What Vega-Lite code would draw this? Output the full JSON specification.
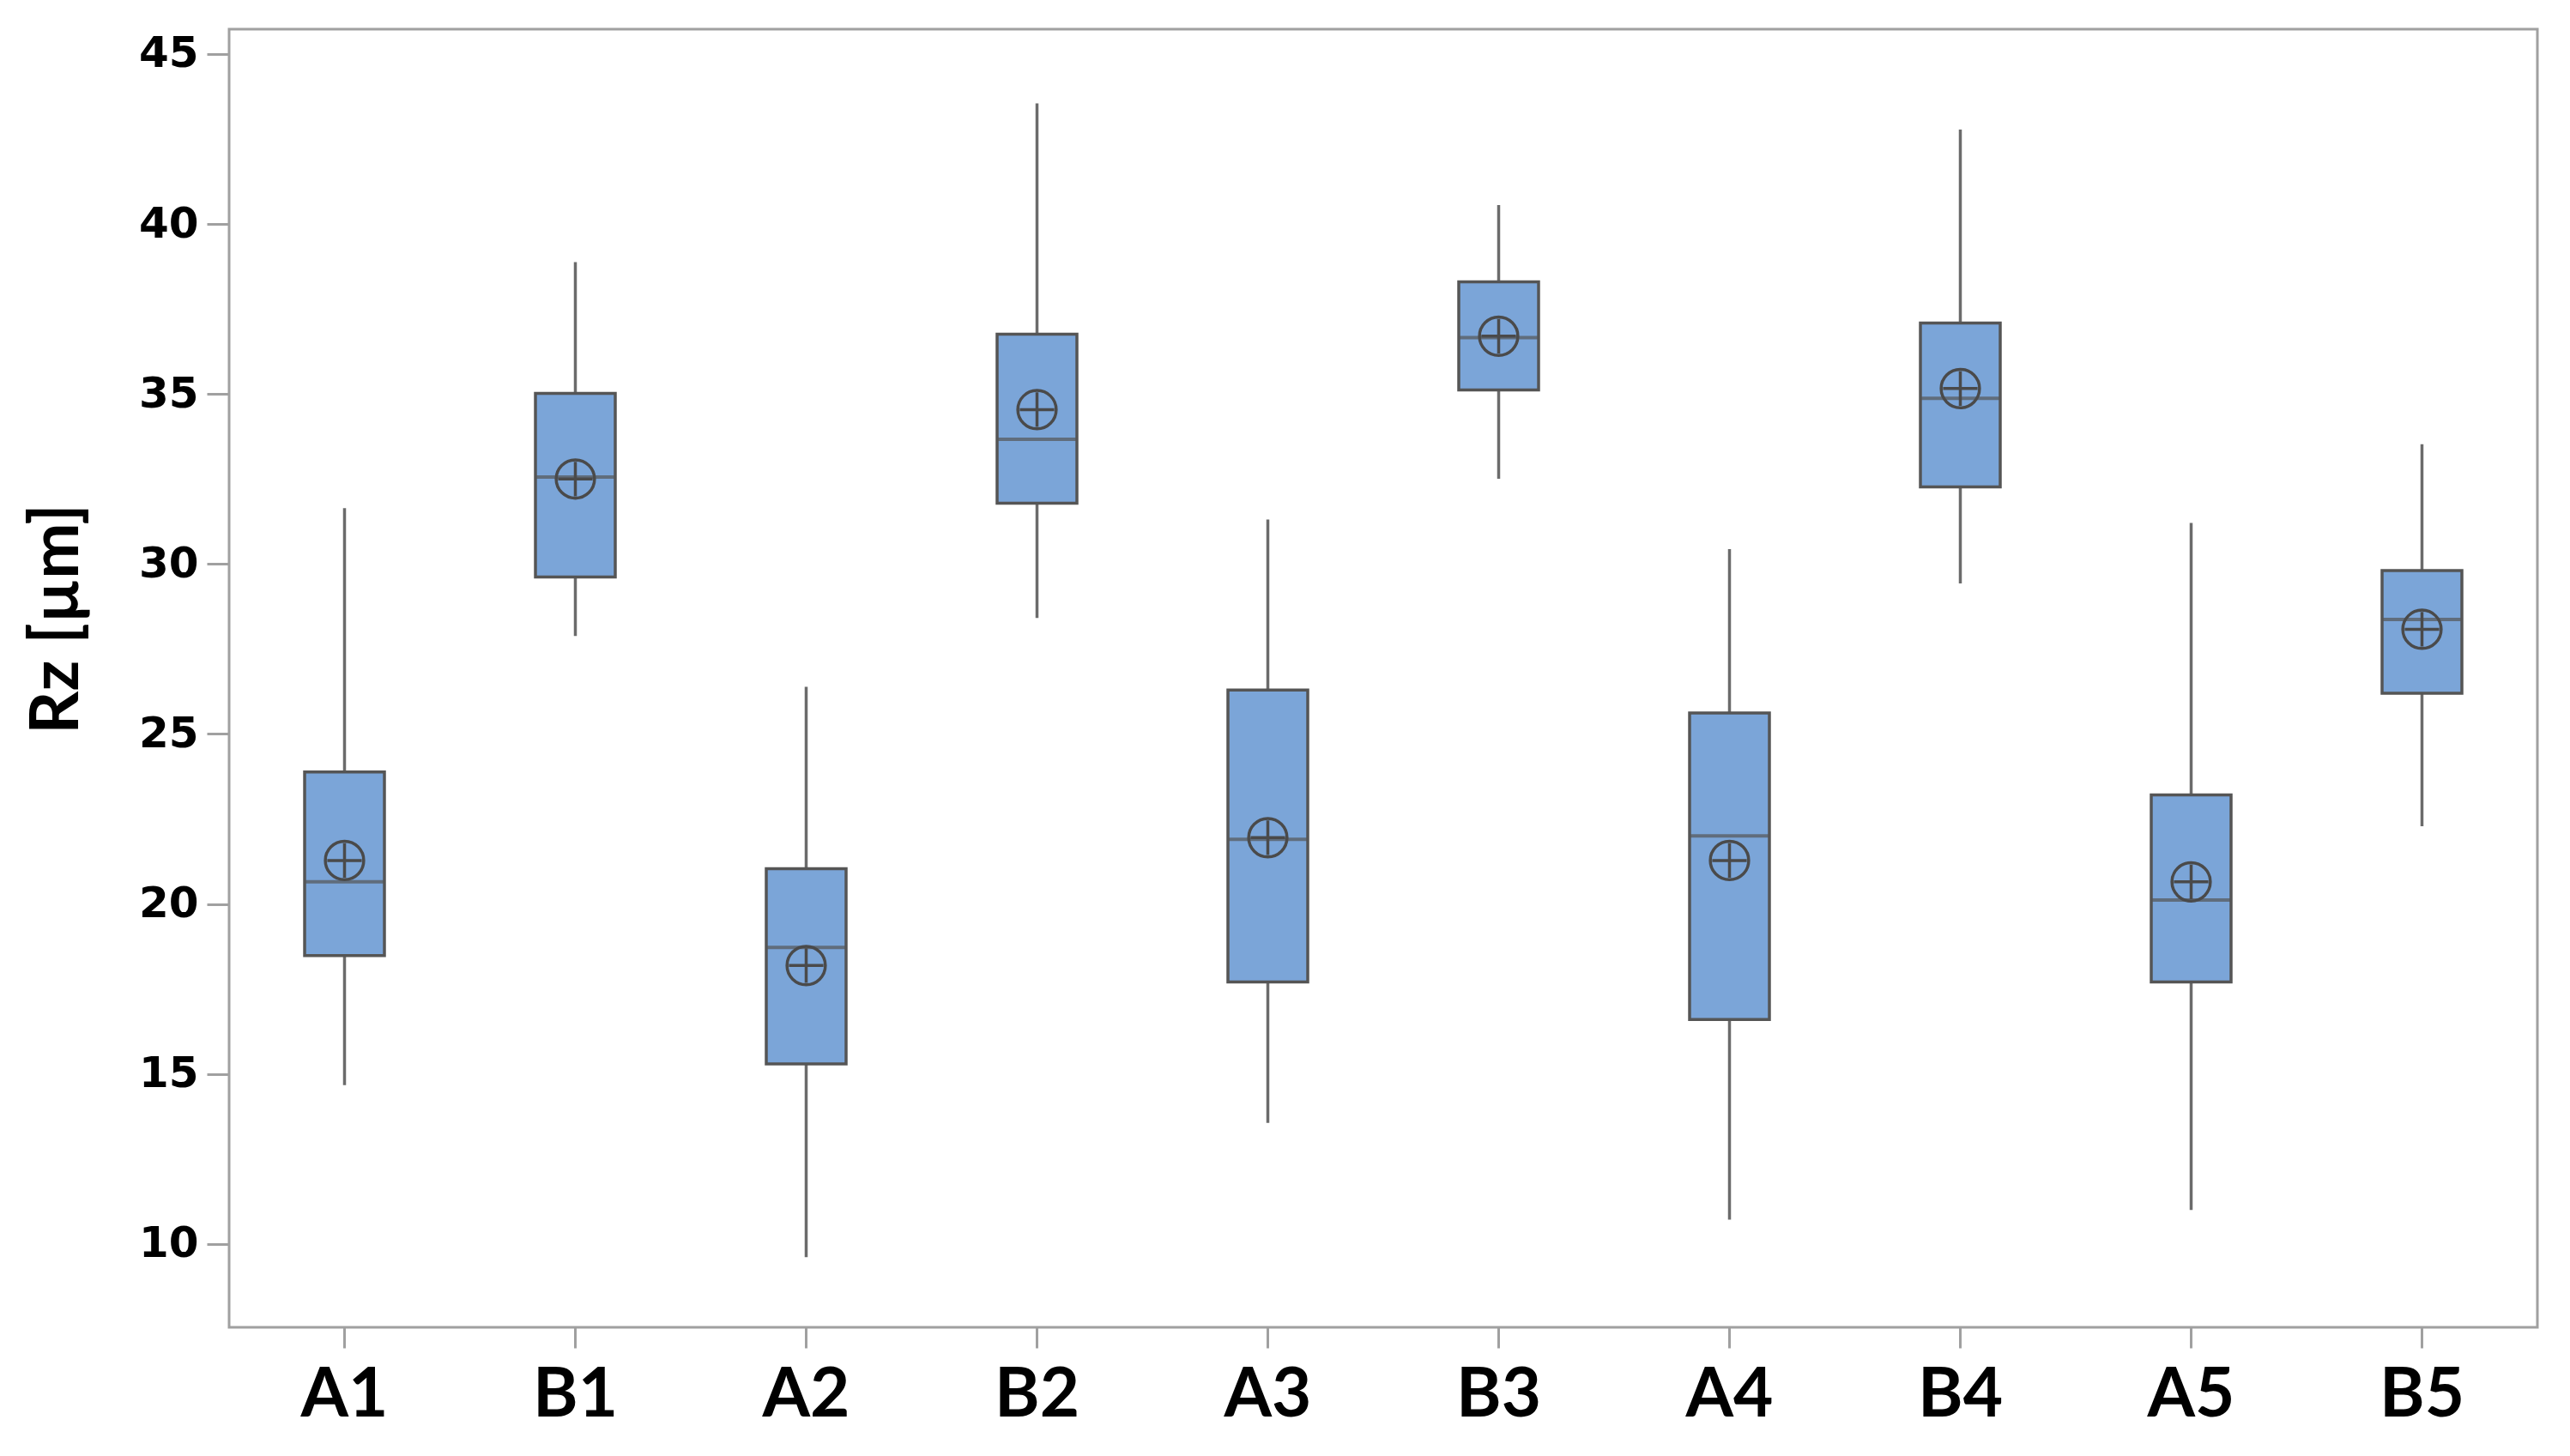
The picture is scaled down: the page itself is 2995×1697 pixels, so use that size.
{
  "$schema": "https://vega.github.io/schema/vega-lite/v6.json",
  "autosize": "none",
  "width": 2690,
  "height": 1513,
  "padding": {"left": 267, "top": 34, "right": 38, "bottom": 150},
  "background": "white",
  "config": {
    "view": {"stroke": "#a0a0a0", "strokeWidth": 3}
  },
  "data": {
    "values": [
      {"group": "A1", "low": 14.67, "q1": 18.48, "median": 20.65, "q3": 23.88, "high": 31.64, "mean": 21.28},
      {"group": "B1", "low": 27.88, "q1": 29.62, "median": 32.56, "q3": 35.02, "high": 38.88, "mean": 32.5},
      {"group": "A2", "low": 9.61, "q1": 15.3, "median": 18.72, "q3": 21.04, "high": 26.39, "mean": 18.19},
      {"group": "B2", "low": 28.41, "q1": 31.79, "median": 33.67, "q3": 36.76, "high": 43.55, "mean": 34.54},
      {"group": "A3", "low": 13.56, "q1": 17.71, "median": 21.9, "q3": 26.29, "high": 31.31, "mean": 21.95},
      {"group": "B3", "low": 32.51, "q1": 35.12, "median": 36.66, "q3": 38.3, "high": 40.56, "mean": 36.7},
      {"group": "A4", "low": 10.72, "q1": 16.6, "median": 22.0, "q3": 25.62, "high": 30.44, "mean": 21.28},
      {"group": "B4", "low": 29.43, "q1": 32.27, "median": 34.87, "q3": 37.09, "high": 42.78, "mean": 35.16},
      {"group": "A5", "low": 11.0, "q1": 17.71, "median": 20.12, "q3": 23.21, "high": 31.21, "mean": 20.65},
      {"group": "B5", "low": 22.29, "q1": 26.2, "median": 28.37, "q3": 29.81, "high": 33.52, "mean": 28.08}
    ]
  },
  "encoding": {
    "x": {
      "field": "group",
      "type": "nominal",
      "sort": null,
      "scale": {"paddingInner": 0, "paddingOuter": 0},
      "axis": {
        "title": null,
        "domain": false,
        "labelAngle": 0,
        "labelFont": "Lato",
        "labelFontWeight": "bold",
        "labelFontSize": 80,
        "labelColor": "#000000",
        "labelPadding": 16,
        "tickColor": "#a0a0a0",
        "tickWidth": 3,
        "tickSize": 24,
        "grid": false
      }
    }
  },
  "layer": [
    {
      "mark": {"type": "rule", "color": "#6b6b6b", "strokeWidth": 3.5},
      "encoding": {
        "y": {
          "field": "low",
          "type": "quantitative",
          "scale": {"domain": [7.55, 45.73], "nice": false, "zero": false},
          "axis": {
            "title": "Rz [µm]",
            "values": [10, 15, 20, 25, 30, 35, 40, 45],
            "domain": false,
            "grid": false,
            "labelFont": "DejaVu Sans",
            "labelFontWeight": "bold",
            "labelFontSize": 50,
            "labelColor": "#000000",
            "labelPadding": 10,
            "tickColor": "#a0a0a0",
            "tickWidth": 3,
            "tickSize": 26,
            "titleFont": "Lato",
            "titleFontWeight": "bold",
            "titleFontSize": 78,
            "titleColor": "#000000",
            "titleX": -200,
            "titleY": 687,
            "titleAlign": "center",
            "titleBaseline": "middle",
            "titleAngle": 270
          }
        },
        "y2": {"field": "high"}
      }
    },
    {
      "mark": {"type": "bar", "size": 93, "fill": "#7ba5d8", "stroke": "#555555", "strokeWidth": 3.5},
      "encoding": {
        "y": {"field": "q1", "type": "quantitative"},
        "y2": {"field": "q3"}
      }
    },
    {
      "mark": {"type": "tick", "size": 93, "thickness": 4, "color": "#555555"},
      "encoding": {
        "y": {"field": "median", "type": "quantitative"}
      }
    },
    {
      "mark": {
        "type": "point",
        "shape": "M-1,0A1,1,0,1,1,1,0A1,1,0,1,1,-1,0Z M-0.9,0L0.9,0 M0,-0.9L0,0.9",
        "size": 2000,
        "filled": false,
        "stroke": "#4a4a4a",
        "strokeWidth": 3.5,
        "opacity": 1
      },
      "encoding": {
        "y": {"field": "mean", "type": "quantitative"}
      }
    }
  ]
}
